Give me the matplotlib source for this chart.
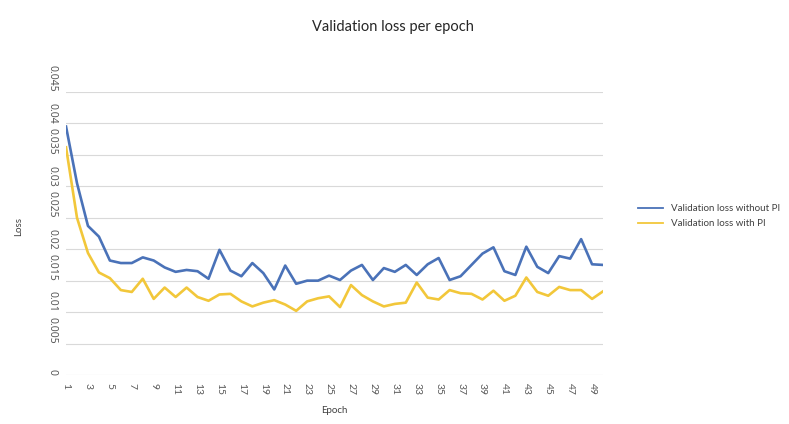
import numpy as np
import matplotlib.pyplot as plt

plt.rcParams['font.family'] = ['Lato', 'DejaVu Sans']

# Datos
epochs = np.arange(1, 51)
loss_sin_pi = [0.0395, 0.0305, 0.0237, 0.0220, 0.0182, 0.0178, 0.0178, 0.0187, 0.0182, 0.0171,
               0.0164, 0.0167, 0.0165, 0.0153, 0.0199, 0.0166, 0.0157, 0.0178, 0.0162, 0.0136,
               0.0174, 0.0145, 0.0150, 0.0150, 0.0158, 0.0151, 0.0166, 0.0175, 0.0151, 0.0170,
               0.0164, 0.0175, 0.0159, 0.0176, 0.0186, 0.0151, 0.0157, 0.0175, 0.0193, 0.0203,
               0.0165, 0.0159, 0.0204, 0.0172, 0.0162, 0.0189, 0.0185, 0.0216, 0.0176, 0.0175]
loss_con_pi = [0.0362, 0.0250, 0.0194, 0.0163, 0.0154, 0.0135, 0.0132, 0.0153, 0.0121, 0.0139,
               0.0124, 0.0139, 0.0124, 0.0118, 0.0128, 0.0129, 0.0117, 0.0109, 0.0115, 0.0119,
               0.0112, 0.0102, 0.0117, 0.0122, 0.0125, 0.0108, 0.0143, 0.0127, 0.0117, 0.0109,
               0.0113, 0.0115, 0.0147, 0.0123, 0.0120, 0.0135, 0.0130, 0.0129, 0.0120, 0.0134,
               0.0118, 0.0126, 0.0155, 0.0132, 0.0126, 0.0140, 0.0135, 0.0135, 0.0121, 0.0133]
yticks = np.arange(0, 0.0451, 0.005)
ytick_labels = ['0', '0.005', '0.01', '0.015', '0.02', '0.025', '0.03', '0.035', '0.04', '0.045']

fig = plt.figure(figsize=(7.89, 4.24), dpi=100)
ax = fig.add_axes([0.0837, 0.1156, 0.6806, 0.6675])

ax.plot(epochs, loss_sin_pi, color='#4A72B8', lw=1.9, label='Validation loss without PI')
ax.plot(epochs, loss_con_pi, color='#F2C73A', lw=1.9, label='Validation loss with PI')

ax.set_xlim(1, 50)
ax.set_ylim(0, 0.045)
ax.set_yticks(yticks)
ax.set_yticklabels(ytick_labels, rotation=-90, va='bottom', fontsize=7.5, color='#595959',
                   family='Noto Sans')
ax.set_xticks(epochs[::2])
ax.set_xticklabels([str(e) for e in epochs[::2]], rotation=-90, fontsize=7.5, color='#595959')
ax.tick_params(length=0, pad=6)
ax.grid(axis='y', color='#D9D9D9', lw=0.8)
ax.set_axisbelow(True)
for s in ax.spines.values():
    s.set_visible(False)

fig.text(0.498, 0.937, 'Validation loss per epoch', ha='center', va='center', fontsize=10.5, color='#262626')
fig.text(0.4233, 0.033, 'Epoch', ha='center', va='center', fontsize=7, color='#404040')
fig.text(0.023, 0.465, 'Loss', ha='center', va='center', rotation=90, fontsize=7, color='#404040')

leg = fig.legend(loc='center left', bbox_to_anchor=(0.797, 0.49), frameon=False, fontsize=7,
                 handlelength=2.6, labelspacing=0.6, labelcolor='#404040')
for ln in leg.get_lines():
    ln.set_linewidth(1.3)

fig.savefig('out.png', dpi=100)
